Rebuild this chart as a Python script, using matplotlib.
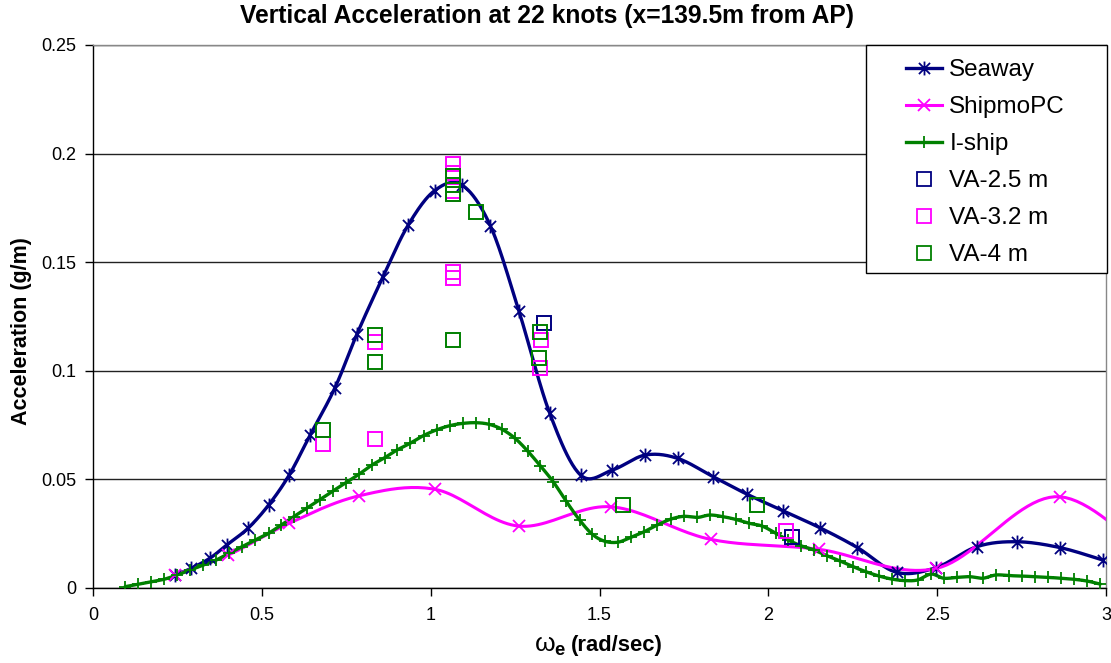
import numpy as np
import matplotlib
matplotlib.use("Agg")
import matplotlib.pyplot as plt
from matplotlib.path import Path
from matplotlib.lines import Line2D
from matplotlib.patches import Rectangle
from matplotlib.ticker import FuncFormatter, MultipleLocator

plt.rcParams['font.family'] = ['Liberation Sans', 'DejaVu Sans']
plt.rcParams['mathtext.fontset'] = 'custom'
plt.rcParams['mathtext.rm'] = 'Liberation Sans'
plt.rcParams['mathtext.it'] = 'Liberation Sans'
plt.rcParams['mathtext.bf'] = 'Liberation Sans:bold'

# ---- computed responses ----
seaway_w = [0.243, 0.290, 0.347, 0.396, 0.459, 0.520, 0.581, 0.643, 0.716, 0.782,
            0.858, 0.933, 1.012, 1.093, 1.177, 1.261, 1.352, 1.444, 1.538, 1.635,
            1.731, 1.836, 1.938, 2.044, 2.152, 2.264, 2.380, 2.497, 2.617, 2.735,
            2.864, 2.990]
seaway_a = [0.0060, 0.0090, 0.0138, 0.0198, 0.0275, 0.0382, 0.0520, 0.0704, 0.0920, 0.1170,
            0.1430, 0.1670, 0.1830, 0.1855, 0.1667, 0.1277, 0.0807, 0.0520, 0.0543, 0.0612,
            0.0597, 0.0513, 0.0431, 0.0355, 0.0278, 0.0186, 0.0072, 0.0094, 0.0190, 0.0213,
            0.0186, 0.0129]

shipmo_w = [0.243, 0.401, 0.581, 0.787, 1.014, 1.261, 1.533, 1.829, 2.150, 2.497, 2.864, 3.220]
shipmo_a = [0.0060, 0.0152, 0.0298, 0.0424, 0.0454, 0.0285, 0.0374, 0.0224, 0.0178, 0.0090, 0.0420, 0.0000]

iship_w = [0.095, 0.132, 0.171, 0.210, 0.249, 0.288, 0.327, 0.365, 0.403, 0.441,
           0.480, 0.520, 0.557, 0.594, 0.633, 0.671, 0.711, 0.749, 0.787, 0.826,
           0.864, 0.900, 0.940, 0.979, 1.019, 1.058, 1.096, 1.134, 1.172, 1.211,
           1.250, 1.287, 1.325, 1.363, 1.401, 1.441, 1.479, 1.516, 1.555, 1.592,
           1.632, 1.671, 1.711, 1.750, 1.790, 1.827, 1.867, 1.903, 1.943, 1.982,
           2.022, 2.058, 2.096, 2.135, 2.173, 2.213, 2.251, 2.289, 2.328, 2.366,
           2.404, 2.442, 2.482, 2.519, 2.559, 2.597, 2.635, 2.674, 2.712, 2.751,
           2.790, 2.829, 2.866, 2.906, 2.944, 2.983]
iship_a = [0.0006, 0.0017, 0.0029, 0.0040, 0.0060, 0.0083, 0.0106, 0.0129, 0.0160, 0.0190,
           0.0221, 0.0252, 0.0290, 0.0328, 0.0367, 0.0405, 0.0447, 0.0485, 0.0523, 0.0566,
           0.0600, 0.0635, 0.0667, 0.0702, 0.0729, 0.0748, 0.0758, 0.0761, 0.0754, 0.0731,
           0.0689, 0.0631, 0.0562, 0.0489, 0.0400, 0.0313, 0.0247, 0.0215, 0.0211, 0.0233,
           0.0259, 0.0290, 0.0317, 0.0330, 0.0325, 0.0336, 0.0328, 0.0316, 0.0298, 0.0285,
           0.0252, 0.0221, 0.0195, 0.0175, 0.0149, 0.0124, 0.0098, 0.0075, 0.0055, 0.0041,
           0.0034, 0.0037, 0.0064, 0.0045, 0.0049, 0.0052, 0.0045, 0.0060, 0.0057, 0.0055,
           0.0052, 0.0049, 0.0045, 0.0040, 0.0032, 0.0018]

# ---- measured accelerations ----
va25_w = [1.335, 2.071]
va25_a = [0.1219, 0.0233]

va32_w = [0.681, 0.836, 0.836, 1.067, 1.067, 1.067, 1.067, 1.067, 1.067, 1.327, 1.325, 2.052]
va32_a = [0.0661, 0.0686, 0.1131, 0.1950, 0.1912, 0.1830, 0.1815, 0.1456, 0.1426, 0.1142, 0.1011, 0.0264]

va4_w = [0.681, 0.836, 0.836, 1.065, 1.065, 1.065, 1.065, 1.135, 1.323, 1.320, 1.570, 1.965]
va4_a = [0.0727, 0.1165, 0.1039, 0.1142, 0.1895, 0.1855, 0.1815, 0.1733, 0.1177, 0.1060, 0.0382, 0.0382]

NAVY = '#000080'
MAGENTA = '#FF00FF'
GREEN = '#008000'

# Excel-style star: vertical bar plus an X
STAR = Path([(0, -1), (0, 1), (-0.8, -0.8), (0.8, 0.8), (-0.8, 0.8), (0.8, -0.8)],
            [Path.MOVETO, Path.LINETO, Path.MOVETO, Path.LINETO, Path.MOVETO, Path.LINETO])


def smooth(x, y, n=24):
    """Bezier smoothing through every point (tangents from neighbours)."""
    pts = np.column_stack([x, y]).astype(float)
    ext = np.vstack([pts[0], pts, pts[-1]])
    t = np.linspace(0, 1, n)[:, None]
    out = []
    for i in range(len(pts) - 1):
        p0, p1, p2, p3 = ext[i], ext[i + 1], ext[i + 2], ext[i + 3]
        c1 = p1 + (p2 - p0) / 6.0
        c2 = p2 - (p3 - p1) / 6.0
        seg = (1 - t) ** 3 * p1 + 3 * (1 - t) ** 2 * t * c1 + 3 * (1 - t) * t ** 2 * c2 + t ** 3 * p2
        out.append(seg if i == 0 else seg[1:])
    s = np.vstack(out)
    return s[:, 0], s[:, 1]


W, H = 1111, 663
fig = plt.figure(figsize=(W / 100, H / 100), dpi=100)
ax = fig.add_axes([93 / W, 75 / H, 1013 / W, 543 / H])

series = [
    (seaway_w, seaway_a, NAVY, STAR, 10, 2.4, 'Seaway'),
    (shipmo_w, shipmo_a, MAGENTA, 'x', 8.5, 2.2, 'ShipmoPC'),
    (iship_w, iship_a, GREEN, '+', 9, 2.4, 'I-ship'),
]
handles = []
for w, a, col, mk, ms, lw, lab in series:
    sx, sy = smooth(w, a)
    ax.plot(sx, sy, color=col, lw=lw, zorder=3, solid_capstyle='round')
    ax.plot(w, a, linestyle='none', marker=mk, color=col, markersize=ms,
            markeredgewidth=1.3, zorder=4)
    handles.append(Line2D([], [], color=col, lw=lw, marker=mk, markersize=ms,
                          markeredgewidth=1.3, label=lab))

for w, a, col, lab in [(va25_w, va25_a, NAVY, 'VA-2.5 m'),
                       (va32_w, va32_a, MAGENTA, 'VA-3.2 m'),
                       (va4_w, va4_a, GREEN, 'VA-4 m')]:
    ax.plot(w, a, linestyle='none', marker='s', markerfacecolor='none',
            markeredgecolor=col, markersize=10.5, markeredgewidth=1.4, zorder=5)
    handles.append(Line2D([], [], linestyle='none', marker='s', markerfacecolor='none',
                          markeredgecolor=col, markersize=10, markeredgewidth=1.3, label=lab))

ax.set_xlim(0, 3)
ax.set_ylim(0, 0.25)
ax.xaxis.set_major_locator(MultipleLocator(0.5))
ax.yaxis.set_major_locator(MultipleLocator(0.05))
fmt = FuncFormatter(lambda v, p: '%g' % round(v, 3))
ax.xaxis.set_major_formatter(fmt)
ax.yaxis.set_major_formatter(fmt)
ax.tick_params(axis='both', direction='out', length=6, width=1, colors='black',
               labelsize=13, pad=8)
ax.tick_params(axis='y', pad=6)

ax.grid(axis='y', color='#222222', linewidth=1.0, zorder=1)
ax.set_axisbelow(True)
for side in ('top', 'right'):
    ax.spines[side].set_color('#888888')
    ax.spines[side].set_linewidth(1.0)
for side in ('left', 'bottom'):
    ax.spines[side].set_color('black')
    ax.spines[side].set_linewidth(1.0)

# legend box (frame drawn separately for wider padding)
box = Rectangle(((866 - 93) / 1013, (588 - 273) / 543), 241 / 1013, 228 / 543,
                transform=ax.transAxes, facecolor='white', edgecolor='black',
                linewidth=1.0, zorder=6, clip_on=False)
ax.add_patch(box)
leg = ax.legend(handles=handles, loc='upper left',
                bbox_to_anchor=(906 / W, 1 - 59 / H), bbox_transform=fig.transFigure,
                fontsize=17.5, frameon=False, borderpad=0.0, labelspacing=0.62,
                handlelength=1.48, handletextpad=0.3, borderaxespad=0.0)
leg.set_zorder(7)

fig.text(547 / W, 1 - 16 / H, 'Vertical Acceleration at 22 knots (x=139.5m from AP)',
         ha='center', va='center', fontsize=17.7, fontweight='bold')
fig.text(22 / W, 1 - 331 / H, 'Acceleration (g/m)', rotation=90,
         ha='center', va='center', fontsize=15.5, fontweight='bold')
fig.text(566 / W, 1 - 646 / H, r'$\omega_\mathbf{e}$',
         ha='right', va='center', fontsize=19, fontweight='bold')
fig.text(571 / W, 1 - 646 / H, '(rad/sec)',
         ha='left', va='center', fontsize=15.8, fontweight='bold')

fig.savefig('out.png', dpi=100)
